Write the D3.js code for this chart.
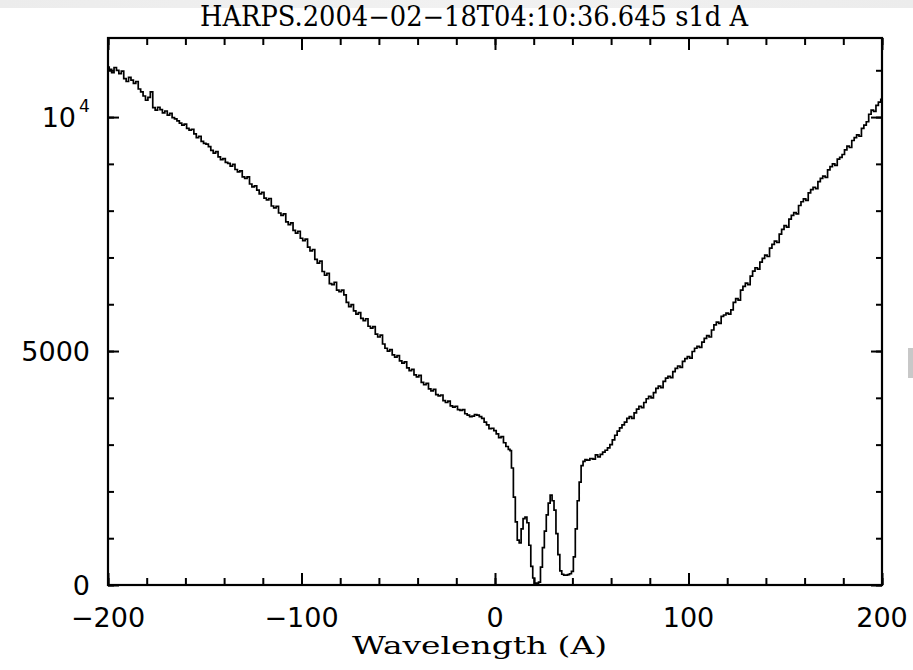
<!DOCTYPE html>
<html>
<head>
<meta charset="utf-8">
<script src="https://cdn.jsdelivr.net/npm/d3@7"></script>
<style>
  html, body { margin: 0; padding: 0; background: #ffffff; }
  svg { display: block; }
</style>
</head>
<body>
<svg id="chart" width="913" height="670"></svg>
<script>
// ---- data ----
const titleText = "HARPS.2004\u221202\u221218T04:10:36.645 s1d A";
const xLabelText = "Wavelength (A)";
const xMajorTicks = [-200, -100, 0, 100, 200];
const xTickLabels = ["\u2212200", "\u2212100", "0", "100", "200"];
const yMajorTicks = [0, 5000, 10000];
const yTickLabels = ["0", "5000", "10"];

// blue side of the line (step 1.25)
const wavelengthBlue = [
  -200, -198.75, -197.5, -196.25, -195, -193.75, -192.5, -191.25, -190, -188.75,
  -187.5, -186.25, -185, -183.75, -182.5, -181.25, -180, -178.75, -177.5, -176.25,
  -175, -173.75, -172.5, -171.25, -170, -168.75, -167.5, -166.25, -165, -163.75,
  -162.5, -161.25, -160, -158.75, -157.5, -156.25, -155, -153.75, -152.5, -151.25,
  -150, -148.75, -147.5, -146.25, -145, -143.75, -142.5, -141.25, -140, -138.75,
  -137.5, -136.25, -135, -133.75, -132.5, -131.25, -130, -128.75, -127.5, -126.25,
  -125, -123.75, -122.5, -121.25, -120, -118.75, -117.5, -116.25, -115, -113.75,
  -112.5, -111.25, -110, -108.75, -107.5, -106.25, -105, -103.75, -102.5, -101.25,
  -100, -98.75, -97.5, -96.25, -95, -93.75, -92.5, -91.25, -90, -88.75,
  -87.5, -86.25, -85, -83.75, -82.5, -81.25, -80, -78.75, -77.5, -76.25,
  -75, -73.75, -72.5, -71.25, -70, -68.75, -67.5, -66.25, -65, -63.75,
  -62.5, -61.25, -60, -58.75, -57.5, -56.25, -55, -53.75, -52.5, -51.25,
  -50, -48.75, -47.5, -46.25, -45, -43.75, -42.5, -41.25, -40, -38.75,
  -37.5, -36.25, -35, -33.75, -32.5, -31.25, -30, -28.75, -27.5, -26.25,
  -25, -23.75, -22.5, -21.25, -20, -18.75, -17.5, -16.25, -15, -13.75,
  -12.5, -11.25, -10, -8.75, -7.5, -6.25, -5, -3.75, -2.5, -1.25,
  0, 1.25, 2.5, 3.75, 5, 6.25, 7.5
];
const fluxBlue = [
  11070, 11020, 10950, 11060, 11000, 10930, 10980, 10820, 10760, 10850,
  10790, 10720, 10760, 10600, 10540, 10450, 10360, 10420, 10540, 10200,
  10150, 10210, 10160, 10090, 10130, 10040, 10080, 9990, 9960, 9920,
  9870, 9830, 9850, 9760, 9720, 9740, 9640, 9560, 9590, 9480,
  9440, 9420, 9370, 9290, 9230, 9260, 9150, 9090, 9110, 9030,
  9010, 8950, 8990, 8880, 8830, 8850, 8720, 8690, 8720, 8570,
  8510, 8530, 8440, 8360, 8390, 8270, 8230, 8260, 8100, 8060,
  8090, 7950, 7900, 7930, 7760, 7700, 7740, 7580, 7520, 7560,
  7410, 7360, 7390, 7220, 7140, 7170, 6960, 6880, 6920, 6700,
  6620, 6660, 6440, 6420, 6470, 6300, 6270, 6300, 6200, 6040,
  5950, 5990, 5860, 5790, 5820, 5700, 5650, 5690, 5530, 5490,
  5520, 5360, 5300, 5340, 5150, 5060, 5000, 5030, 4920, 4870,
  4900, 4790, 4740, 4770, 4640, 4580, 4610, 4490, 4450, 4480,
  4330, 4280, 4310, 4190, 4150, 4180, 4070, 4040, 4060, 3940,
  3900, 3930, 3830, 3800, 3820, 3750, 3730, 3750, 3660, 3630,
  3600, 3610, 3640, 3630, 3600, 3560, 3480, 3420, 3340, 3350,
  3300, 3230, 3150, 3170, 3040, 2960, 2900
];

// core of the absorption feature (step 1)
const wavelengthCore = [
  8, 9, 10, 11, 12, 13, 14, 15, 16, 17,
  18, 19, 20, 21, 22, 23, 24, 25, 26, 27,
  28, 29, 30, 31, 32, 33, 34, 35, 36, 37,
  38, 39, 40, 41, 42, 43, 44, 45, 46, 47,
  48
];
const fluxCore = [
  2870, 2500, 1880, 1350, 960, 900, 1200, 1420, 1450, 1330,
  850, 400, 150, 40, 40, 60, 380, 800, 1150, 1500,
  1750, 1920, 1800, 1600, 1100, 650, 300, 230, 210, 210,
  220, 240, 290, 600, 1200, 1800, 2200, 2550, 2640, 2680,
  2670
];

// red side of the line (step 1.25)
const wavelengthRed = [
  50, 51.25, 52.5, 53.75, 55, 56.25, 57.5, 58.75, 60, 61.25,
  62.5, 63.75, 65, 66.25, 67.5, 68.75, 70, 71.25, 72.5, 73.75,
  75, 76.25, 77.5, 78.75, 80, 81.25, 82.5, 83.75, 85, 86.25,
  87.5, 88.75, 90, 91.25, 92.5, 93.75, 95, 96.25, 97.5, 98.75,
  100, 101.25, 102.5, 103.75, 105, 106.25, 107.5, 108.75, 110, 111.25,
  112.5, 113.75, 115, 116.25, 117.5, 118.75, 120, 121.25, 122.5, 123.75,
  125, 126.25, 127.5, 128.75, 130, 131.25, 132.5, 133.75, 135, 136.25,
  137.5, 138.75, 140, 141.25, 142.5, 143.75, 145, 146.25, 147.5, 148.75,
  150, 151.25, 152.5, 153.75, 155, 156.25, 157.5, 158.75, 160, 161.25,
  162.5, 163.75, 165, 166.25, 167.5, 168.75, 170, 171.25, 172.5, 173.75,
  175, 176.25, 177.5, 178.75, 180, 181.25, 182.5, 183.75, 185, 186.25,
  187.5, 188.75, 190, 191.25, 192.5, 193.75, 195, 196.25, 197.5, 198.75,
  200
];
const fluxRed = [
  2700, 2690, 2780, 2740, 2790, 2840, 2880, 2930, 3000, 3100,
  3200, 3290, 3360, 3420, 3480, 3560, 3600, 3560, 3680, 3760,
  3820, 3790, 3900, 3980, 4030, 4000, 4110, 4200, 4250, 4220,
  4350, 4420, 4460, 4430, 4560, 4630, 4680, 4650, 4780, 4840,
  4880, 4850, 4990, 5060, 5100, 5080, 5190, 5270, 5330, 5300,
  5450, 5560, 5620, 5590, 5740, 5770, 5810, 5790, 5880, 6040,
  6120, 6090, 6300, 6380, 6450, 6420, 6600, 6710, 6780, 6750,
  6900, 6980, 7050, 7020, 7200, 7280, 7350, 7320, 7500, 7600,
  7680, 7650, 7820, 7900, 7960, 7930, 8110, 8190, 8250, 8220,
  8380, 8450, 8500, 8470, 8620, 8690, 8740, 8710, 8870, 8940,
  9000, 8970, 9100, 9140, 9200, 9300, 9380, 9350, 9500, 9560,
  9620, 9590, 9760, 9830, 9900, 10060, 10150, 10120, 10250, 10320,
  10380
];

// ---- layout ----
const svg = d3.select("#chart");
const plotL = 108, plotR = 882, plotT = 38, plotB = 585;

const x = d3.scaleLinear().domain([-200, 200]).range([plotL, plotR]);
const y = d3.scaleLinear().domain([0, 11690]).range([plotB, plotT]);

// background artifacts (grey band at top, grey block at right edge)
const grad = svg.append("defs").append("linearGradient").attr("id", "band")
  .attr("x1", "0").attr("x2", "1").attr("y1", "0").attr("y2", "0");
grad.append("stop").attr("offset", "0").attr("stop-color", "#ececec");
grad.append("stop").attr("offset", "0.5").attr("stop-color", "#f1f1f1");
grad.append("stop").attr("offset", "1").attr("stop-color", "#ececec");
svg.append("rect").attr("x", 0).attr("y", 0).attr("width", 913).attr("height", 8).attr("fill", "url(#band)");
svg.append("rect").attr("x", 908).attr("y", 348).attr("width", 5).attr("height", 30).attr("fill", "#c8c8c8");

// minor/major tick arrays
const xMinor = d3.range(-200, 201, 20);
const yMinor = d3.range(0, 11001, 1000);

function axisG(axis, tx, ty) {
  const g = svg.append("g").attr("transform", `translate(${tx},${ty})`).call(axis);
  g.select(".domain").remove();
  g.selectAll(".tick line").attr("stroke", "#000").attr("stroke-width", 2);
  g.selectAll(".tick text").remove();
  return g;
}
axisG(d3.axisBottom(x).tickValues(xMinor).tickSize(-7).tickFormat(""), 0, plotB);
axisG(d3.axisBottom(x).tickValues(xMajorTicks).tickSize(-12).tickFormat(""), 0, plotB);
axisG(d3.axisTop(x).tickValues(xMinor).tickSize(-7).tickFormat(""), 0, plotT);
axisG(d3.axisTop(x).tickValues(xMajorTicks).tickSize(-12).tickFormat(""), 0, plotT);
axisG(d3.axisLeft(y).tickValues(yMinor).tickSize(-6).tickFormat(""), plotL, 0);
axisG(d3.axisLeft(y).tickValues(yMajorTicks).tickSize(-11).tickFormat(""), plotL, 0);
axisG(d3.axisRight(y).tickValues(yMinor).tickSize(-6).tickFormat(""), plotR, 0);
axisG(d3.axisRight(y).tickValues(yMajorTicks).tickSize(-11).tickFormat(""), plotR, 0);

// frame
svg.append("rect").attr("x", plotL).attr("y", plotT)
  .attr("width", plotR - plotL).attr("height", plotB - plotT)
  .attr("fill", "none").attr("stroke", "#000").attr("stroke-width", 2.2);

// spectrum
const wavelength = wavelengthBlue.concat(wavelengthCore, wavelengthRed);
const flux = fluxBlue.concat(fluxCore, fluxRed);
const pts = wavelength.map((w, i) => [w, flux[i]]);
svg.append("path").datum(pts)
  .attr("fill", "none").attr("stroke", "#000").attr("stroke-width", 1.7)
  .attr("stroke-linejoin", "miter")
  .attr("d", d3.line().x(d => x(d[0])).y(d => y(d[1])).curve(d3.curveStep));

// tick labels
const numFont = "'DejaVu Sans', sans-serif";
svg.append("g").selectAll("text").data(xMajorTicks).join("text")
  .attr("x", d => x(d)).attr("y", 627)
  .attr("text-anchor", "middle")
  .attr("font-family", numFont).attr("font-size", 27).attr("fill", "#000")
  .text((d, i) => xTickLabels[i]);

svg.append("g").selectAll("text").data(yMajorTicks).join("text")
  .attr("x", d => d === 10000 ? 76 : 90).attr("y", d => y(d) + 9.5)
  .attr("text-anchor", "end")
  .attr("font-family", numFont).attr("font-size", 27).attr("fill", "#000")
  .text((d, i) => yTickLabels[i]);
svg.append("text").attr("x", 79).attr("y", y(10000) - 5)
  .attr("font-family", numFont).attr("font-size", 17).attr("fill", "#000")
  .text("4");

// title
svg.append("text").attr("x", 200).attr("y", 26)
  .attr("font-family", "'DejaVu Serif', serif").attr("font-size", 27).attr("fill", "#000")
  .attr("textLength", 548).attr("lengthAdjust", "spacingAndGlyphs")
  .text(titleText);

// x label
svg.append("text").attr("x", 352).attr("y", 654)
  .attr("font-family", "'DejaVu Serif', serif").attr("font-size", 25).attr("fill", "#000")
  .attr("textLength", 255).attr("lengthAdjust", "spacingAndGlyphs")
  .text(xLabelText);
</script>
</body>
</html>
